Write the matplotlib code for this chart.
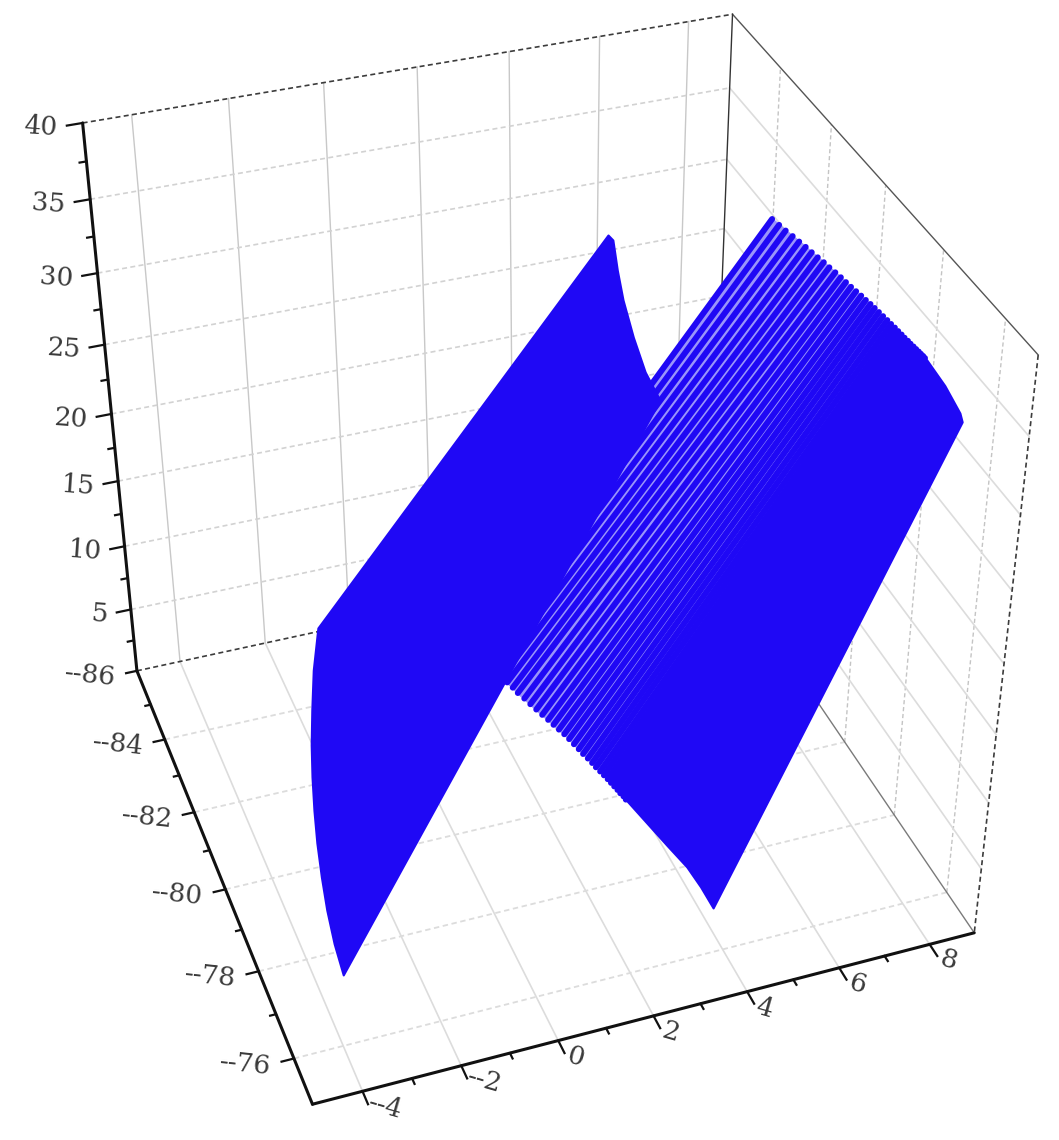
import numpy as np
import matplotlib
matplotlib.use("Agg")
from matplotlib import pyplot as plt
from mpl_toolkits.mplot3d import proj3d
from mpl_toolkits.mplot3d.art3d import Poly3DCollection

# axis ranges and ticks
x_range = [-5, 9]
y_range = [-75, -86]  # y grows towards the viewer
z_range = [0, 40]
x_major = [-4, -2, 0, 2, 4, 6, 8]
x_minor = [-3, -1, 1, 3, 5, 7]
x_labels = ["--4", "--2", "0", "2", "4", "6", "8"]
y_major = [-86, -84, -82, -80, -78, -76]
y_minor = [-85, -83, -81, -79, -77]
y_labels = ["--86", "--84", "--82", "--80", "--78", "--76"]
z_major = [5, 10, 15, 20, 25, 30, 35, 40]
z_minor = [2.5, 7.5, 12.5, 17.5, 22.5, 27.5, 32.5, 37.5]
z_labels = ["5", "10", "15", "20", "25", "30", "35", "40"]

# the two sheets, near end lies at y_near, far end at y_far
y_near = -77
y_far = -84
left_near_x = [-3.72, -3.85, -3.92, -3.97, -3.99, -3.99, -3.97, -3.92, -3.85, -3.74, -3.59]
left_near_z = [26.70, 24.00, 21.37, 19.00, 16.78, 14.40, 12.04, 9.50, 6.96, 4.30, 1.74]
left_far_x = [5.26, 5.37, 5.48, 5.62, 5.87, 6.16, 6.52]
left_far_z = [30.78, 30.37, 28.20, 26.02, 23.20, 20.48, 18.16]
right_near_x = [2.80, 3.25, 3.70, 4.02, 4.32]
right_near_z = [7.70, 5.60, 3.54, 1.70, -0.25]
right_far_x = [12.94, 13.45, 13.90, 13.98]
right_far_z = [17.09, 14.80, 12.37, 11.62]

# single lines of the right sheet, still apart from each other
line_near_x = [-0.93, -0.83, -0.72, -0.62, -0.52, -0.42, -0.31, -0.21, -0.11, -0.00, 0.10, 0.23,
               0.35, 0.47, 0.59, 0.71, 0.82, 0.93, 1.04, 1.14, 1.24, 1.34, 1.43, 1.53, 1.62, 1.70,
               1.79, 1.87, 1.95, 2.02, 2.09, 2.16, 2.22, 2.29, 2.34]
line_near_z = [23.79, 23.35, 22.92, 22.48, 22.04, 21.60, 21.15, 20.71, 20.26, 19.81, 19.36, 18.87,
               18.38, 17.91, 17.44, 16.99, 16.55, 16.12, 15.70, 15.27, 14.82, 14.38, 13.96, 13.55,
               13.15, 12.77, 12.39, 12.04, 11.69, 11.36, 11.04, 10.72, 10.42, 10.13, 9.85]
line_far_x = [8.98, 9.15, 9.31, 9.48, 9.64, 9.80, 9.95, 10.10, 10.25, 10.39, 10.54, 10.68, 10.81,
              10.94, 11.07, 11.20, 11.32, 11.44, 11.55, 11.66, 11.77, 11.88, 11.98, 12.08, 12.17,
              12.26, 12.34, 12.43, 12.50, 12.58, 12.65, 12.72, 12.78, 12.84, 12.89]
line_far_z = [29.76, 29.25, 28.76, 28.27, 27.79, 27.32, 26.85, 26.40, 25.96, 25.51, 25.06, 24.62,
              24.19, 23.77, 23.37, 22.97, 22.58, 22.21, 21.85, 21.48, 21.11, 20.75, 20.40, 20.07,
              19.75, 19.44, 19.15, 18.86, 18.60, 18.34, 18.10, 17.87, 17.66, 17.46, 17.27]

BLUE = "#1f08f5"
GAP = "#9a94fa"
GRID = "#dcdcdc"
TEXT = "#3a3a3a"
DASH = (0, (3, 2))

plt.rcParams["font.family"] = ["DejaVu Serif"]

W, H = 1059, 1140
side = 576.2
fig = plt.figure(figsize=(W / 100, H / 100), dpi=100)
ax = fig.add_axes([237.1 / W, 312.1 / H, side / W, side / H], projection="3d")
ax.computed_zorder = False
ax.set_axis_off()
ax.set_xticks([])
ax.set_yticks([])
ax.set_zticks([])
ax.view_init(elev=36.1171, azim=-109.484, roll=0.1771)
ax.set_box_aspect((1, np.exp(0.0058), np.exp(-0.0024)), zoom=np.exp(0.709))
ax.set_xlim(*x_range)
ax.set_ylim(*y_range)
ax.set_zlim(*z_range)


def seg(p0, p1, **kw):
    ax.plot([p0[0], p1[0]], [p0[1], p1[1]], [p0[2], p1[2]], clip_on=False, **kw)


def sheet(near_x, near_z, far_x, far_z, color, zorder):
    verts = list(zip(near_x, [y_near] * len(near_x), near_z))
    verts += list(zip(far_x[::-1], [y_far] * len(far_x), far_z[::-1]))
    poly = Poly3DCollection([verts], facecolor=color, edgecolor=color, lw=1.5, zorder=zorder)
    poly.set_clip_on(False)
    ax.add_collection3d(poly)


def label(x, y, z, s, **kw):
    px, py, _ = proj3d.proj_transform(x, y, z, ax.get_proj())
    ax.text2D(px, py, s, transform=ax.transData, fontsize=19, color=TEXT, clip_on=False, zorder=7, **kw)


x0, x1 = x_range
yf, yb = y_range
z0, z1 = z_range

# grid on the floor, back wall and right wall
for x in x_major:
    seg((x, yb, z0), (x, yf, z0), color=GRID, lw=1.2, zorder=1)
    seg((x, yb, z0), (x, yb, z1), color="#c8c8c8", lw=1.0, zorder=1)
for y in y_major[1:]:
    seg((x0, y, z0), (x1, y, z0), color=GRID, lw=1.3, ls=DASH, zorder=1)
    seg((x1, y, z0), (x1, y, z1), color="#c4c4c4", lw=1.0, ls=DASH, zorder=1)
for z in z_major[:-1]:
    seg((x0, yb, z), (x1, yb, z), color="#d2d2d2", lw=1.2, ls=DASH, zorder=1)
    seg((x1, yb, z), (x1, yf, z), color=GRID, lw=1.2, zorder=1)

# box edges
seg((x0, yb, z1), (x1, yb, z1), color="#3c3c3c", lw=1.2, ls=DASH, zorder=2)
seg((x0, yb, z0), (x1, yb, z0), color="#3c3c3c", lw=1.2, ls=DASH, zorder=2)
seg((x1, yf, z1), (x1, yf, z0), color="#3c3c3c", lw=1.2, ls=DASH, zorder=2)
seg((x1, yb, z1), (x1, yf, z1), color="#555555", lw=1.0, zorder=2)
seg((x1, yb, z1), (x1, yb, z0), color="#333333", lw=1.0, zorder=2)
seg((x1, yb, z0), (x1, yf, z0), color="#7a7a7a", lw=1.0, zorder=2)

# the right sheet: pale base, separate lines, solid where they run together
sheet(line_near_x, line_near_z, line_far_x, line_far_z, GAP, 2.5)
for i in range(len(line_near_x)):
    seg((line_near_x[i], y_near, line_near_z[i]), (line_far_x[i], y_far, line_far_z[i]),
        color=BLUE, lw=4.3, solid_capstyle="round", zorder=3)
sheet([line_near_x[-1]] + right_near_x, [line_near_z[-1]] + right_near_z,
      [line_far_x[-1]] + right_far_x, [line_far_z[-1]] + right_far_z, BLUE, 4)

# the left sheet on top
sheet(left_near_x, left_near_z, left_far_x, left_far_z, BLUE, 5)

# axis lines, ticks and labels
AX = dict(color="#111111", lw=2.2, solid_capstyle="round", zorder=6)
TICK = dict(color="#111111", lw=1.6, zorder=6)
seg((x0, yb, z1), (x0, yb, z0), **AX)
seg((x0, yb, z0), (x0, yf, z0), **AX)
seg((x0, yf, z0), (x1, yf, z0), **AX)

for z, lab in zip(z_major, z_labels):
    seg((x0, yb, z), (x0 - 0.32, yb, z), **TICK)
    label(x0 - 0.5, yb, z, lab, ha="right", va="center", rotation=-4)
for z in z_minor:
    seg((x0, yb, z), (x0 - 0.14, yb, z), **TICK)
for y, lab in zip(y_major, y_labels):
    seg((x0, y, z0), (x0 - 0.25, y, z0), **TICK)
    label(x0 - 0.45, y, z0, lab, ha="right", va="center", rotation=-6)
for y in y_minor:
    seg((x0, y, z0), (x0 - 0.12, y, z0), **TICK)
for x, lab in zip(x_major, x_labels):
    seg((x, yf, z0), (x, yf + 0.28, z0), **TICK)
    shift = 0.3 if lab.startswith("-") else 0.15
    label(x + shift, yf + 0.42, z0, lab, ha="center", va="center", rotation=-16)
for x in x_minor:
    seg((x, yf, z0), (x, yf + 0.12, z0), **TICK)

fig.savefig("out.png", dpi=100)
